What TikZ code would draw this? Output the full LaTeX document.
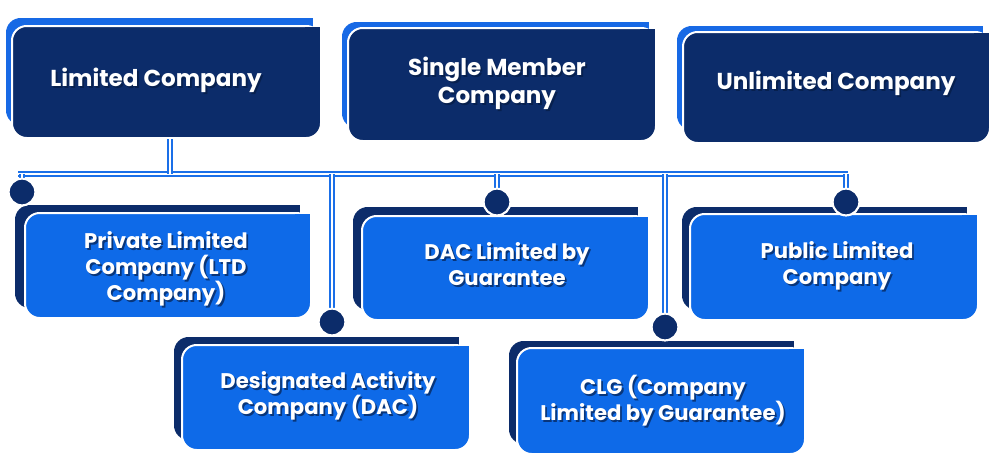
\documentclass[tikz,border=0pt]{standalone}
\usepackage{fontspec}
\setmainfont{Poppins}
\definecolor{navy}{HTML}{0C2C6A}
\definecolor{bright}{HTML}{0E6AE8}
\definecolor{topblue}{HTML}{1769E5}
\definecolor{connblue}{HTML}{1A6FE8}
\definecolor{shadowc}{HTML}{051A40}
\newcommand\frontpanel[5]{%
  \draw[fill=#5, draw=white, line width=1.5pt, rounded corners=11pt] (#1,#2) rectangle (#3,#4);
  \fill[#5] ({#3-16},{#2+1}) rectangle ({#3-1},{#2+16});}
\newcommand\backpanel[5]{%
  \fill[#5, rounded corners=11pt] (#1,#2) rectangle (#3,#4);
  \fill[#5] ({#3-16},#2) rectangle (#3,{#2+16});}
\newcommand\shlabel[4]{%
  \node[#3, text=shadowc, opacity=.65] at ([shift={(1.8,2)}]#2) {#4};
  \node[#3] (#1) at (#2) {#4};}
\begin{document}
\begin{tikzpicture}[x=0.75pt,y=-0.75pt,
  toptxt/.style={text=white, align=center, font=\bfseries\fontsize{17.3}{21}\selectfont},
  subtxt/.style={text=white, align=center, font=\bfseries\fontsize{15.9}{19.5}\selectfont},
  conn/.style={draw=connblue, line width=1.4pt, double=white, double distance=1.6pt},
  dot/.style={circle, fill=navy, draw=white, line width=1.5pt, minimum size=20pt, inner sep=0pt}]
\useasboundingbox (0,0) rectangle (997,464);

% top boxes
\backpanel{6}{18}{313}{125}{topblue}
\frontpanel{12}{26}{321}{138}{navy}
\backpanel{342}{22}{649}{128}{topblue}
\frontpanel{348}{28}{656}{141}{navy}
\backpanel{677}{26}{983}{130}{topblue}
\frontpanel{683}{32}{990}{143}{navy}

% bottom boxes
\backpanel{15}{205}{300}{308}{navy}
\frontpanel{25}{213}{311}{318}{bright}
\backpanel{353}{207}{638}{310}{navy}
\frontpanel{362}{216}{649}{320}{bright}
\backpanel{682}{207}{967}{310}{navy}
\frontpanel{690}{214}{978}{320}{bright}
\backpanel{174}{337}{459}{440}{navy}
\frontpanel{182}{345}{470}{450}{bright}
\backpanel{509}{341}{794}{444}{navy}
\frontpanel{517}{348}{805}{454}{bright}

% labels
\shlabel{lc}{156,80}{toptxt}{Limited Company}
\shlabel{smc}{497,83}{toptxt}{Single Member\\Company}
\shlabel{uc}{836,83}{toptxt}{Unlimited Company}
\shlabel{plc}{166,269}{subtxt}{Private Limited\\Company (LTD\\Company)}
\shlabel{dacg}{507,264}{subtxt}{DAC Limited by\\Guarantee}
\shlabel{pub}{837,266}{subtxt}{Public Limited\\Company}
\shlabel{dac}{328,396}{subtxt}{Designated Activity\\Company (DAC)}
\shlabel{clg}{663,401}{subtxt}{CLG (Company\\Limited by Guarantee)}

% connectors
\coordinate (lcb) at (170,139);
\coordinate (hl) at (18,174);
\coordinate (hr) at (848,174);
\node[dot] (d1) at (22,192) {};
\node[dot] (d2) at (497,202) {};
\node[dot] (d3) at (846,202) {};
\node[dot] (d4) at (332,322) {};
\node[dot] (d5) at (665,327) {};
\draw[conn] (hl) -- (hr);
\draw[conn] (lcb) -- (lcb |- hl);
\draw[conn] (d1 |- hl) -- (d1.north);
\draw[conn] (d2 |- hl) -- (d2.north);
\draw[conn] (d3 |- hl) -- (d3.north);
\draw[conn] (d4 |- hl) -- (d4.north);
\draw[conn] (d5 |- hl) -- (d5.north);
\node[dot] at (d1) {};
\node[dot] at (d2) {};
\node[dot] at (d3) {};
\node[dot] at (d4) {};
\node[dot] at (d5) {};
\end{tikzpicture}
\end{document}
